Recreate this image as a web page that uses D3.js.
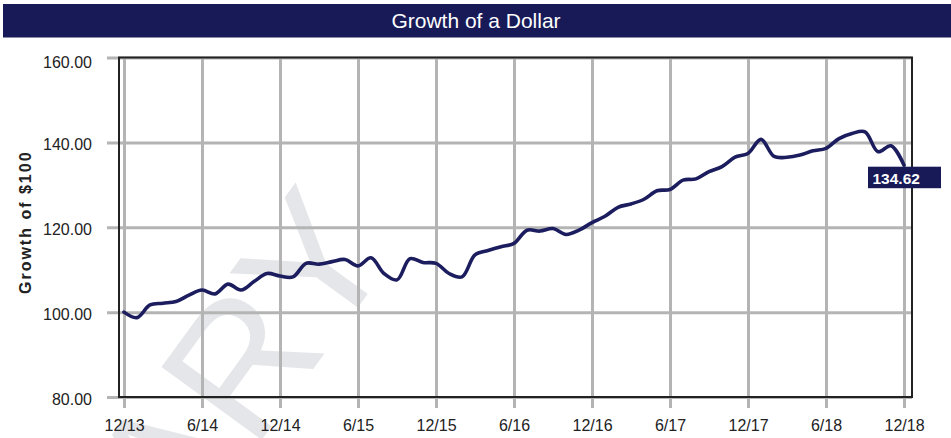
<!DOCTYPE html>
<html>
<head>
<meta charset="utf-8">
<script src="https://cdn.jsdelivr.net/npm/d3@7/dist/d3.min.js"></script>
<style>
  html, body { margin: 0; padding: 0; background: #fff; }
  svg { display: block; font-family: "Liberation Sans", Arial, Helvetica, sans-serif; }
</style>
</head>
<body>
<svg id="chart" width="951" height="438"></svg>
<script>
// ---- data ----
const title = "Growth of a Dollar";
const yAxisTitle = "Growth of $100";
const watermark = "PRELIMINARY";
// monthly values, 12/13 .. 12/18
const values = [
  100.00,
  98.7, 101.7, 102.1, 102.5, 104.0, 105.2, 104.3, 106.6, 105.2, 107.2, 109.1, 108.5,
  108.3, 111.5, 111.3, 111.9, 112.4, 110.9, 112.8, 109.1, 107.6, 112.6, 111.7, 111.5,
  109.1, 108.3, 113.5, 114.5, 115.4, 116.2, 119.3, 119.1, 119.7, 118.3, 119.3, 121.1,
  122.6, 124.7, 125.5, 126.6, 128.6, 128.9, 131.1, 131.4, 133.1, 134.3, 136.5, 137.4,
  140.7, 136.7, 136.5, 137.0, 138.0, 138.6, 140.9, 142.1, 142.5, 137.8, 139.2, 134.62
];
const xTickLabels = ["12/13","6/14","12/14","6/15","12/15","6/16","12/16","6/17","12/17","6/18","12/18"];
const xTickMonths = [0, 6, 12, 18, 24, 30, 36, 42, 48, 54, 60];
const yTicks = [80, 100, 120, 140, 160];
const endLabel = "134.62";

// ---- layout ----
const svg = d3.select("#chart");
const L = 119, R = 912, T = 57.5, B = 397;
const navy = "#171a57";
const gridColor = "#b4b4b4";

const x = d3.scaleLinear().domain([0, 60]).range([124, 904]);
const y = d3.scaleLinear().domain([80, 160]).range([B, T]);

// title bar
svg.append("rect").attr("x", 3).attr("y", 4).attr("width", 948).attr("height", 33.5).attr("fill", navy);
svg.append("text").attr("x", 476).attr("y", 28).attr("text-anchor", "middle")
  .attr("fill", "#fff").attr("font-size", 21).text(title);

// watermark
svg.append("text")
  .attr("transform", "translate(398,252) rotate(-54)")
  .attr("text-anchor", "end")
  .attr("font-size", 180)
  .attr("fill", "#e5e6e9")
  .text(watermark);

// horizontal grid + y labels
const gy = svg.append("g").attr("transform", "translate(107,0)")
  .call(d3.axisLeft(y).tickValues(yTicks).tickFormat(d3.format(".2f"))
    .tickSize(-(R - 107)).tickPadding(15));
gy.select(".domain").remove();
gy.selectAll(".tick line").attr("stroke", gridColor).attr("stroke-width", 3);
gy.selectAll(".tick text").attr("font-size", 16).attr("fill", "#222")
  .attr("font-family", "Liberation Sans, Arial, sans-serif")
  .attr("dy", d => d === 160 ? "0.6em" : "0.46em");

// vertical grid + x labels
const gx = svg.append("g").attr("transform", "translate(0,408)")
  .call(d3.axisBottom(x).tickValues(xTickMonths).tickFormat((d, i) => xTickLabels[i])
    .tickSize(-(408 - T)).tickPadding(12));
gx.select(".domain").remove();
gx.selectAll(".tick line").attr("stroke", gridColor).attr("stroke-width", 3);
gx.selectAll(".tick text").attr("font-size", 16).attr("fill", "#222")
  .attr("font-family", "Liberation Sans, Arial, sans-serif");

// frame
svg.append("rect").attr("x", L).attr("y", T).attr("width", R - L).attr("height", B - T)
  .attr("fill", "none").attr("stroke", "#222").attr("stroke-width", 2);

// y axis title
svg.append("text")
  .attr("transform", `translate(31,${(T + B) / 2 - 5}) rotate(-90)`)
  .attr("text-anchor", "middle").attr("font-weight", "bold").attr("font-size", 16)
  .attr("letter-spacing", 2).attr("fill", "#222").text(yAxisTitle);

// line
const line = d3.line().x((d, i) => x(i)).y(d => y(d)).curve(d3.curveCatmullRom.alpha(0.5));
svg.append("path").datum(values).attr("d", line)
  .attr("fill", "none").attr("stroke", "#1c1d5e").attr("stroke-width", 3.6)
  .attr("stroke-linejoin", "round").attr("stroke-linecap", "round");

// end label
const lastI = values.length - 1;
const lx = x(lastI) - 36, ly = y(values[lastI]) + 1.5;
svg.append("rect").attr("x", lx).attr("y", ly).attr("width", 73).attr("height", 21.5).attr("fill", navy);
svg.append("text").attr("x", lx + 4.5).attr("y", ly + 17.5).attr("fill", "#fff")
  .attr("font-size", 15.5).attr("font-weight", "bold").text(endLabel);
</script>
</body>
</html>
